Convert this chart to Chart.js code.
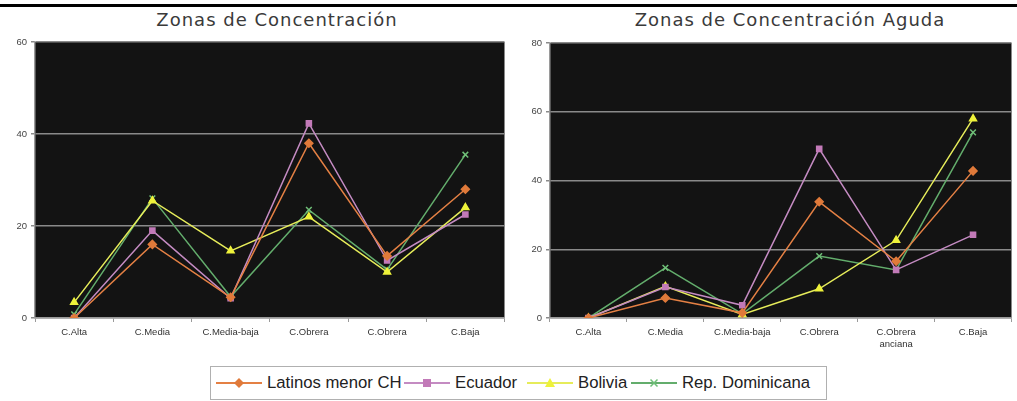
<!DOCTYPE html>
<html>
<head>
<meta charset="utf-8">
<script src="https://cdn.jsdelivr.net/npm/chart.js@4/dist/chart.umd.min.js"></script>
<style>
  html, body { margin:0; padding:0; background:#fff; width:1017px; height:401px; overflow:hidden; position:relative; font-family:"Liberation Sans", Arial, sans-serif; }
  .rule { position:absolute; left:0; top:4px; width:1017px; height:3px; background:#000; }
  .title { position:absolute; top:9px; height:22px; line-height:22px; font-family:"DejaVu Sans", sans-serif; font-size:18px; letter-spacing:1px; color:#3a3a3a; white-space:nowrap; transform:translateX(-50%); }
  canvas { position:absolute; }
  #legend { position:absolute; left:210px; top:366px; width:615px; height:32px; border:1px solid #b0b0b0; }
  .li { position:absolute; top:0; height:32px; display:flex; align-items:center; white-space:nowrap; font-size:16.7px; color:#222; }
  .li svg { margin-right:5px; }
</style>
</head>
<body>
<div class="rule"></div>
<div class="title" style="left:277px">Zonas de Concentración</div>
<div class="title" style="left:790px">Zonas de Concentración Aguda</div>
<canvas id="c1" width="510" height="330" style="left:0;top:32px"></canvas>
<canvas id="c2" width="507" height="330" style="left:510px;top:32px"></canvas>
<div id="legend"></div>
<script>
// ---- data ----
const categoriesLeft = ["C.Alta", "C.Media", "C.Media-baja", "C.Obrera", "C.Obrera", "C.Baja"];
const categoriesRight = ["C.Alta", "C.Media", "C.Media-baja", "C.Obrera", ["C.Obrera", "anciana"], "C.Baja"];
const seriesNames = ["Latinos menor CH", "Ecuador", "Bolivia", "Rep. Dominicana"];

const latinosLeft = [0, 16, 4.5, 38, 13.5, 28];
const ecuadorLeft = [0, 19, 4.3, 42.3, 12.5, 22.5];
const boliviaLeft = [3.4, 25.5, 14.6, 22, 10, 24];
const dominicanaLeft = [0.8, 26, 4.6, 23.5, 10.5, 35.5];

const latinosRight = [0, 5.8, 1.5, 33.8, 16.5, 42.8];
const ecuadorRight = [0, 9, 3.7, 49.2, 14, 24.2];
const boliviaRight = [0, 9.2, 1, 8.5, 22.6, 58];
const dominicanaRight = [0, 14.6, 1.2, 18, 14, 54];

const yTicksLeft = { max: 60, step: 20 };
const yTicksRight = { max: 80, step: 20 };

// ---- styles ----
const styles = [
  { line: "#e48044", point: "#e07a3a", pointStyle: "rectRot", radius: 4 },
  { line: "#c48bc2", point: "#c27ab8", pointStyle: "rect", radius: 3.6 },
  { line: "#e6ec5a", point: "#eef23a", pointStyle: "triangle", radius: 4 },
  { line: "#63ad6c", point: "#6fbf78", pointStyle: "crossRot", radius: 4 }
];

const bgPlugin = {
  id: "plotbg",
  beforeDraw(chart) {
    const a = chart.chartArea, ctx = chart.ctx;
    ctx.save();
    ctx.fillStyle = "#131313";
    ctx.fillRect(a.left, a.top, a.right - a.left, a.bottom - a.top);
    ctx.restore();
  }
};

function makeDatasets(arrs) {
  return arrs.map((d, i) => ({
    label: seriesNames[i],
    data: d,
    borderColor: styles[i].line,
    backgroundColor: styles[i].point,
    pointBackgroundColor: styles[i].point,
    pointBorderColor: styles[i].point,
    pointStyle: styles[i].pointStyle,
    pointRadius: styles[i].radius,
    pointBorderWidth: 1.5,
    borderWidth: 1.5,
    tension: 0
  }));
}

function makeChart(id, labels, arrs, yt, yWidth, padTop, padRight) {
  return new Chart(document.getElementById(id), {
    type: "line",
    data: { labels, datasets: makeDatasets(arrs) },
    plugins: [bgPlugin],
    options: {
      responsive: false,
      animation: false,
      layout: { padding: { top: padTop, right: padRight, left: 0, bottom: 0 } },
      plugins: { legend: { display: false }, tooltip: { enabled: false }, title: { display: false } },
      scales: {
        x: {
          offset: true,
          grid: { display: true, offset: true, drawOnChartArea: false, drawTicks: true, tickLength: 4, color: "#9a9a9a" },
          border: { display: true, color: "#9a9a9a", width: 1.5 },
          ticks: { color: "#333", font: { family: "Liberation Sans", size: 9.5 }, padding: 5, maxRotation: 0, autoSkip: false },
          afterFit(s) { s.height = 44; }
        },
        y: {
          min: 0, max: yt.max,
          grid: { color: "#8a8a8a", lineWidth: 1.5, drawTicks: true, tickLength: 4 },
          border: { display: true, color: "#9a9a9a", width: 1.5 },
          ticks: { stepSize: yt.step, color: "#444", font: { family: "Liberation Sans", size: 9.5 }, padding: 4 },
          afterFit(s) { s.width = yWidth; }
        }
      }
    }
  });
}

makeChart("c1", categoriesLeft, [latinosLeft, ecuadorLeft, boliviaLeft, dominicanaLeft], yTicksLeft, 35, 10, 3);
makeChart("c2", categoriesRight, [latinosRight, ecuadorRight, boliviaRight, dominicanaRight], yTicksRight, 40, 11, 1);

// ---- legend ----
const legendPos = [5, 193, 316, 420];
function markerSVG(st) {
  const c = st.point, l = st.line;
  let m = "";
  if (st.pointStyle === "rectRot") m = `<polygon points="23,2 28,7 23,12 18,7" fill="${c}"/>`;
  else if (st.pointStyle === "rect") m = `<rect x="19" y="3" width="8" height="8" fill="${c}"/>`;
  else if (st.pointStyle === "triangle") m = `<polygon points="23,2 28,11 18,11" fill="${c}"/>`;
  else m = `<path d="M19.5 3.5 L26.5 10.5 M26.5 3.5 L19.5 10.5" stroke="${c}" stroke-width="1.5"/>`;
  return `<svg width="46" height="14"><line x1="0" y1="7" x2="46" y2="7" stroke="${l}" stroke-width="2"/>${m}</svg>`;
}
const lg = document.getElementById("legend");
seriesNames.forEach((n, i) => {
  const d = document.createElement("div");
  d.className = "li";
  d.style.left = legendPos[i] + "px";
  d.innerHTML = markerSVG(styles[i]) + "<span>" + n + "</span>";
  lg.appendChild(d);
});
</script>
</body>
</html>
